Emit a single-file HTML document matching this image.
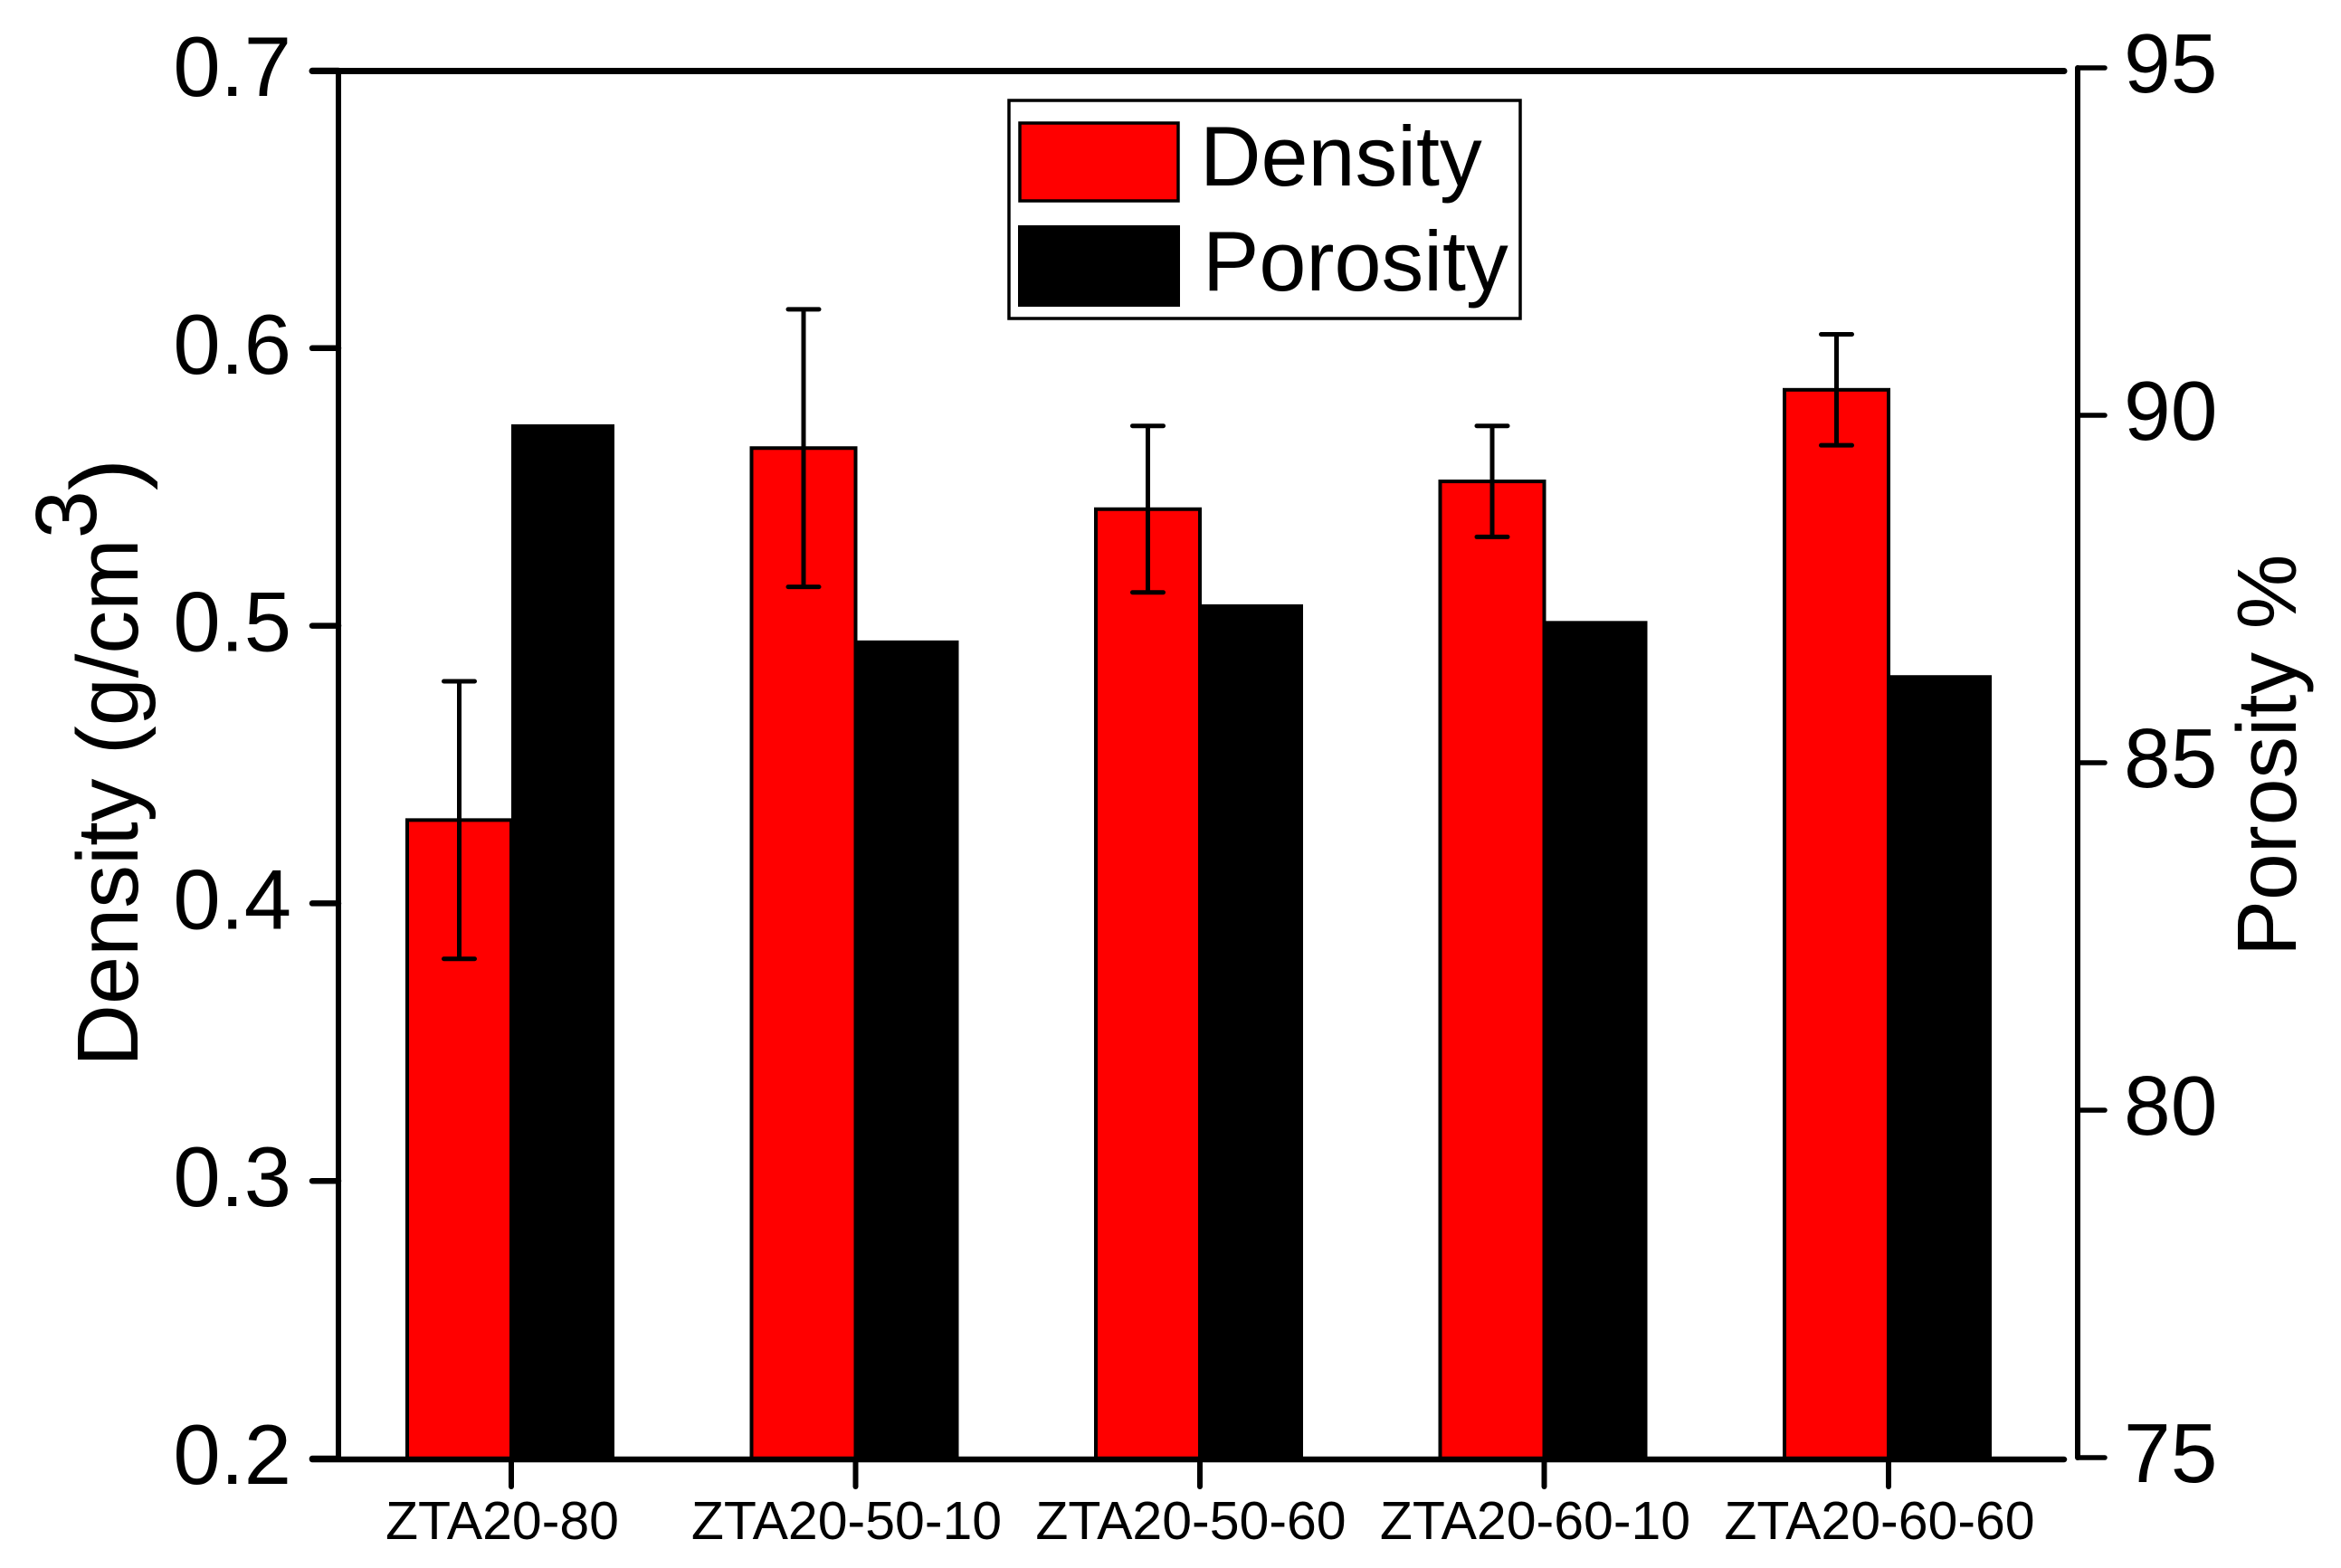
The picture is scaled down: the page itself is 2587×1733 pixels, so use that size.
<!DOCTYPE html>
<html>
<head>
<meta charset="utf-8">
<title>Density and Porosity Chart</title>
<style>
html,body{margin:0;padding:0;background:#fff;}
svg{display:block;font-family:"Liberation Sans",Arial,sans-serif;fill:#000;}
</style>
</head>
<body>
<svg id="chart" xmlns="http://www.w3.org/2000/svg" width="2587" height="1733" viewBox="0 0 2587 1733">
  <rect x="0" y="0" width="2587" height="1733" fill="#fff"/>
  <g id="bars"></g>
  <g id="errors"></g>
  <g id="axes" stroke="#000" stroke-linecap="round">
    <line x1="374" y1="78" x2="374" y2="1612" stroke-width="6"/>
    <line x1="345" y1="78.5" x2="2281" y2="78.5" stroke-width="7"/>
    <line x1="345" y1="1613" x2="2281" y2="1613" stroke-width="6.5"/>
    <line x1="2296" y1="75" x2="2296" y2="1611" stroke-width="6"/>
  </g>
  <g id="ticks"></g>
  <g id="labels"></g>

  <text transform="translate(152,1179) rotate(-90)" font-size="95.5">Density (g/cm<tspan dy="-46">3</tspan><tspan dy="46" font-size="106">)</tspan></text>
  <text transform="translate(2537,1057) rotate(-90)" font-size="93">Porosity %</text>

  <g>
    <rect x="1115" y="111" width="565" height="241" fill="#fff" stroke="#000" stroke-width="3.5"/>
    <rect x="1127" y="136" width="175" height="86" fill="#ff0000" stroke="#000" stroke-width="3.5"/>
    <rect x="1125" y="249" width="179" height="90" fill="#000"/>
    <text x="1326" y="205" font-size="93.5">Density</text>
    <text x="1329" y="321" font-size="93.5">Porosity</text>
  </g>
</svg>
<script>
const categories = ["ZTA20-80", "ZTA20-50-10", "ZTA20-50-60", "ZTA20-60-10", "ZTA20-60-60"];
const densityValues = [0.430, 0.564, 0.542, 0.552, 0.585];
const densityErrors = [0.050, 0.050, 0.030, 0.020, 0.020];
const porosityValues = [89.87, 86.76, 87.28, 87.04, 86.26];
const densityTicks = [0.2, 0.3, 0.4, 0.5, 0.6, 0.7];
const densityTickLabels = ["0.2", "0.3", "0.4", "0.5", "0.6", "0.7"];
const porosityTicks = [75, 80, 85, 90, 95];
const porosityTickLabels = ["75", "80", "85", "90", "95"];

const NS = "http://www.w3.org/2000/svg";
const yLeft = v => 1612 - (v - 0.2) / (0.7 - 0.2) * (1612 - 78);
const yRight = v => 1611 - (v - 75) / (95 - 75) * (1611 - 75);
const xCenter = i => 565 + i * 380.5;
const BAR_L = 115;
const BAR_R = 114;

function make(tag, attrs, parent, content) {
  const el = document.createElementNS(NS, tag);
  for (const k in attrs) el.setAttribute(k, attrs[k]);
  if (content !== undefined) el.textContent = content;
  document.getElementById(parent).appendChild(el);
  return el;
}

categories.forEach((cat, i) => {
  const c = xCenter(i);
  const base = yLeft(0.2);

  const dTop = yLeft(densityValues[i]);
  const red = make("rect", {x: c - BAR_L, y: dTop, width: BAR_L, height: base - dTop, fill: "#ff0000", stroke: "#000", "stroke-width": 4}, "bars");
  
  

  const pTop = yRight(porosityValues[i]);
  const black = make("rect", {x: c, y: pTop, width: BAR_R, height: base - pTop, fill: "#000"}, "bars");
  
  

  const ex = c - BAR_L / 2;
  const hi = yLeft(densityValues[i] + densityErrors[i]);
  const lo = yLeft(densityValues[i] - densityErrors[i]);
  const stem = make("line", {x1: ex, y1: hi, x2: ex, y2: lo, stroke: "#000", "stroke-width": 5}, "errors");
  
  
  const capTop = make("line", {x1: ex - 17, y1: hi, x2: ex + 17, y2: hi, stroke: "#000", "stroke-width": 5, "stroke-linecap": "round"}, "errors");
  
  
  const capBottom = make("line", {x1: ex - 17, y1: lo, x2: ex + 17, y2: lo, stroke: "#000", "stroke-width": 5, "stroke-linecap": "round"}, "errors");
  
  

  const xt = make("line", {x1: c, y1: 1612, x2: c, y2: 1643, stroke: "#000", "stroke-width": 6, "stroke-linecap": "round"}, "ticks");
  
  

  const xl = make("text", {x: c - 10, y: 1701, "font-size": 59, "text-anchor": "middle"}, "labels", cat);
  
  
});

densityTicks.forEach((v, i) => {
  const y = yLeft(v);
  const t = make("line", {x1: 345, y1: y, x2: 374, y2: y, stroke: "#000", "stroke-width": 6.5, "stroke-linecap": "round"}, "ticks");
  
  
  const l = make("text", {x: 322, y: y + 28, "font-size": 94, "text-anchor": "end"}, "labels", densityTickLabels[i]);
  
  
});

porosityTicks.forEach((v, i) => {
  const y = yRight(v);
  const t = make("line", {x1: 2296, y1: y, x2: 2326, y2: y, stroke: "#000", "stroke-width": 5.5, "stroke-linecap": "round"}, "ticks");
  
  
  const l = make("text", {x: 2347, y: y + 27, "font-size": 93}, "labels", porosityTickLabels[i]);
  
  
});
</script>
</body>
</html>
